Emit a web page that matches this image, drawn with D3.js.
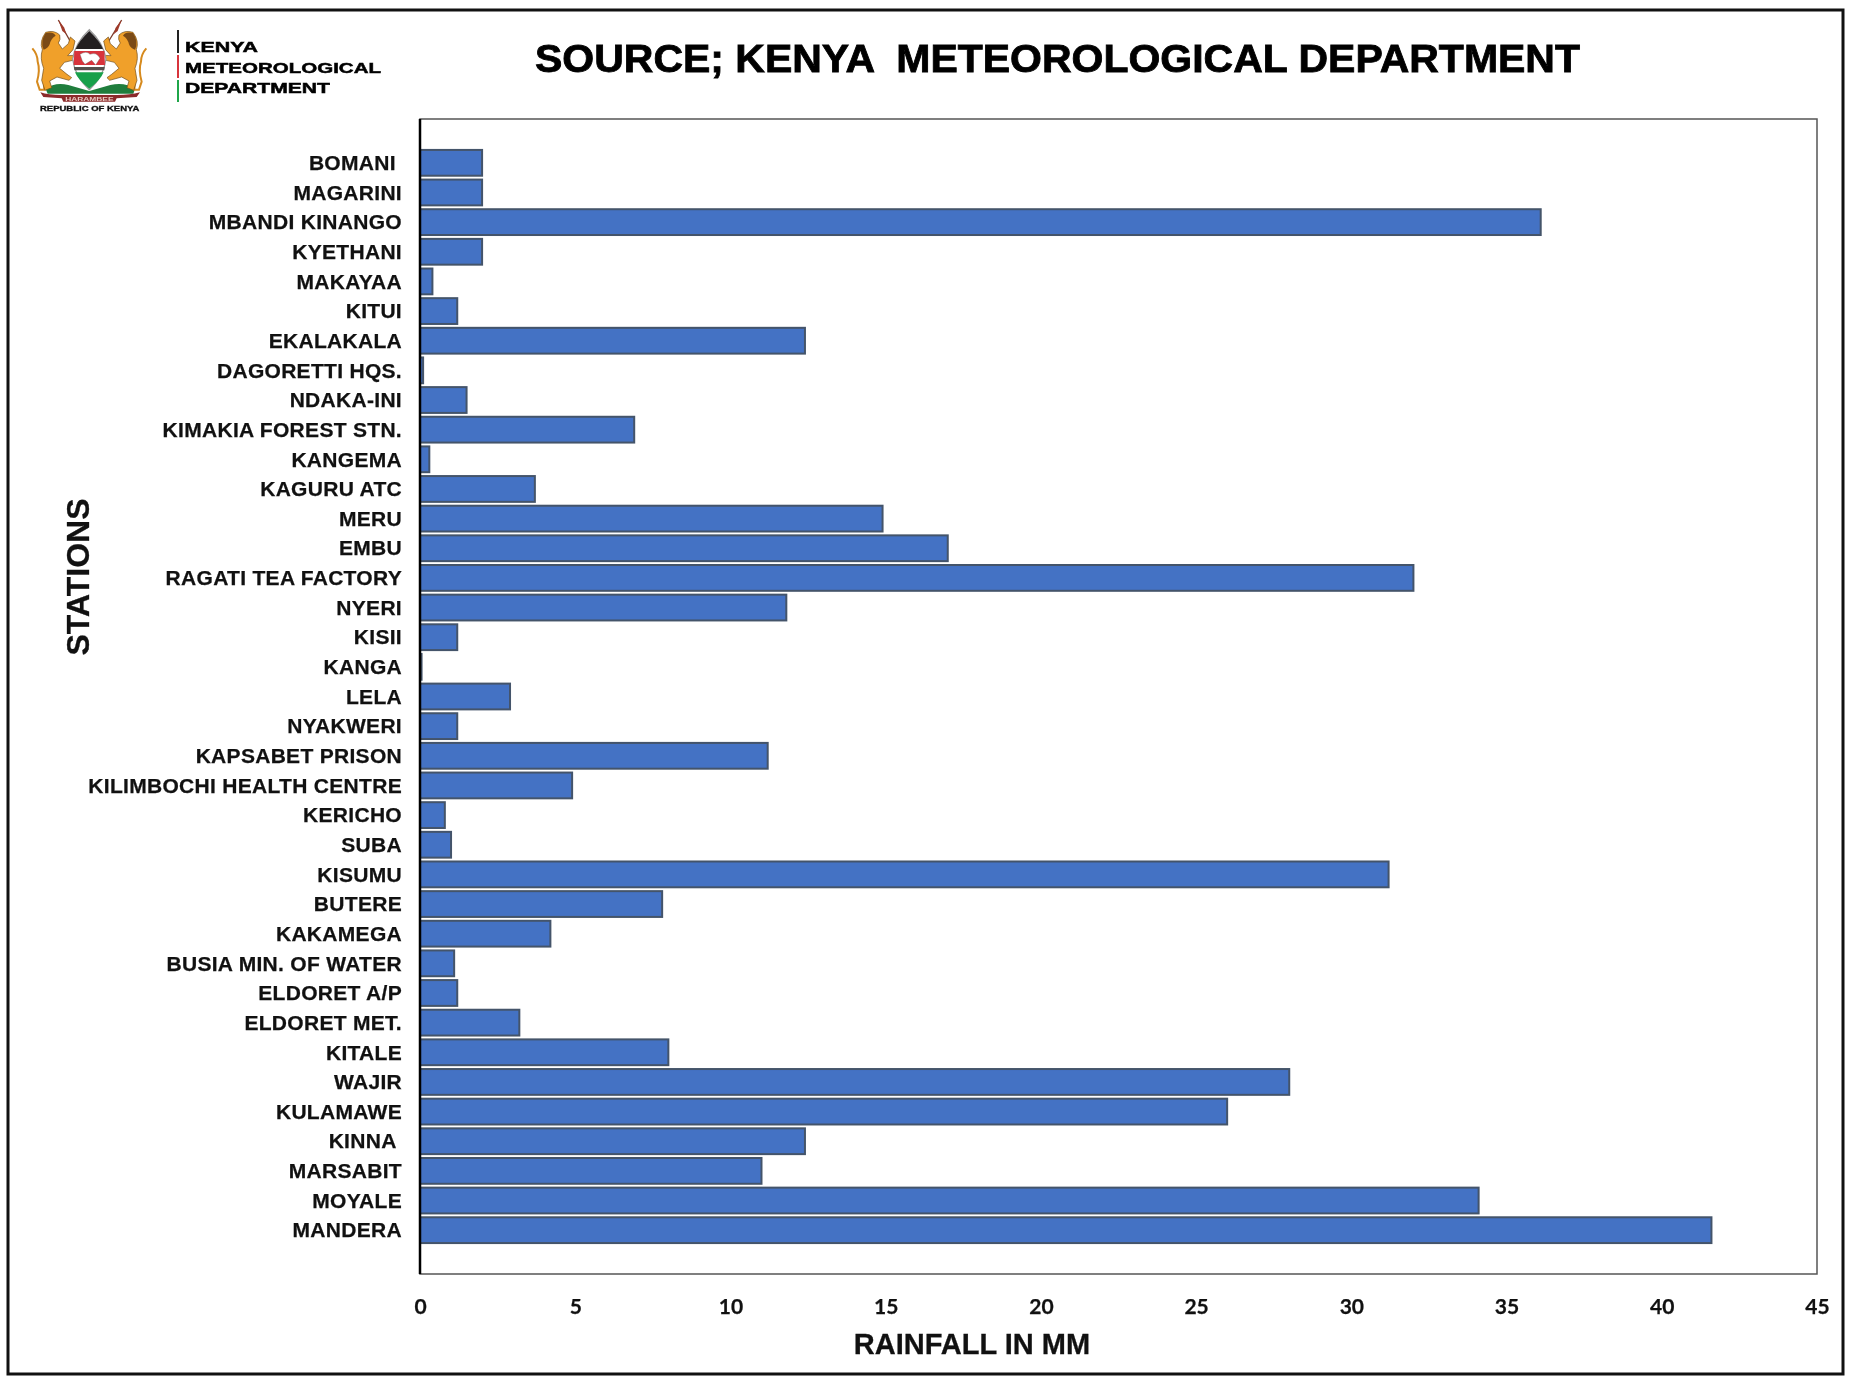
<!DOCTYPE html>
<html>
<head>
<meta charset="utf-8">
<script src="https://cdn.jsdelivr.net/npm/d3@7"></script>
<style>
    body { margin: 0; background: #fff; }
    svg { display: block; filter: blur(0.45px); }
    .station text { font-family: "Liberation Sans", Arial, sans-serif; font-weight: bold; font-size: 21px; letter-spacing: 0.3px; fill: #111; stroke: #111; stroke-width: 0.25px; }
    .rain text { font-family: Lato, sans-serif; font-weight: bold; font-size: 21px; fill: #111; stroke: #111; stroke-width: 0.25px; }
    .axisTitle { font-family: "Liberation Sans", Arial, sans-serif; font-weight: bold; fill: #111; stroke: #111; stroke-width: 0.3px; }
</style>
</head>
<body>
<div id="chart"></div>
<script>
// Stations, top to bottom
var stations = ["BOMANI ", "MAGARINI", "MBANDI KINANGO", "KYETHANI", "MAKAYAA", "KITUI", "EKALAKALA",
    "DAGORETTI HQS.", "NDAKA-INI", "KIMAKIA FOREST STN.", "KANGEMA", "KAGURU ATC", "MERU", "EMBU",
    "RAGATI TEA FACTORY", "NYERI", "KISII", "KANGA", "LELA", "NYAKWERI", "KAPSABET PRISON",
    "KILIMBOCHI HEALTH CENTRE", "KERICHO", "SUBA", "KISUMU", "BUTERE", "KAKAMEGA",
    "BUSIA MIN. OF WATER", "ELDORET A/P", "ELDORET MET.", "KITALE", "WAJIR", "KULAMAWE", "KINNA ",
    "MARSABIT", "MOYALE", "MANDERA"];

// Rainfall in mm, same order as stations
var rainfall = [2, 2, 36.1, 2, 0.4, 1.2, 12.4, 0.1, 1.5, 6.9, 0.3, 3.7, 14.9, 17, 32, 11.8, 1.2, 0.05,
    2.9, 1.2, 11.2, 4.9, 0.8, 1, 31.2, 7.8, 4.2, 1.1, 1.2, 3.2, 8, 28, 26, 12.4, 11, 34.1, 41.6];

var rainTicks = [0, 5, 10, 15, 20, 25, 30, 35, 40, 45];

var w = 1849;
var h = 1377;

// Plot frame
var left = 420, right = 1817, top_ = 119, bottom = 1274;

var svg = d3.select("#chart")
    .append("svg")
    .attr("width", w)
    .attr("height", h);

// Outer border around the whole slide
svg.append("rect")
    .attr("x", 8).attr("y", 10)
    .attr("width", 1835).attr("height", 1364)
    .attr("fill", "none").attr("stroke", "#111").attr("stroke-width", 3);

var xScale = d3.scaleLinear().domain([0, 45]).range([left, right]);

// The bars don't fill the whole frame, there is a gap above and below
var yScale = d3.scaleBand()
    .domain(stations.map(function(d, i) { return i; }))
    .range([148, 1245])
    .paddingInner(0.13)
    .paddingOuter(0.065);

// Frame
svg.append("rect")
    .attr("x", left).attr("y", top_)
    .attr("width", right - left).attr("height", bottom - top_)
    .attr("fill", "none").attr("stroke", "#555").attr("stroke-width", 1.5);

// Bars
svg.append("g")
    .selectAll("rect")
    .data(rainfall)
    .join("rect")
    .attr("x", xScale(0))
    .attr("y", function(d, i) { return yScale(i); })
    .attr("width", function(d) { return xScale(d) - xScale(0); })
    .attr("height", yScale.bandwidth())
    .attr("fill", "#4472c4")
    .attr("stroke", "#44546a")
    .attr("stroke-width", 2);

// Station axis
var yAxis = svg.append("g")
    .attr("class", "station")
    .attr("transform", "translate(" + left + ",0.5)")
    .call(d3.axisLeft(yScale).tickSize(0).tickPadding(18).tickFormat(function(i) { return stations[i]; }));
yAxis.selectAll("text").attr("xml:space", "preserve").style("white-space", "pre");
yAxis.select(".domain").remove();

// Thick line at zero, runs the full height of the frame
svg.append("line")
    .attr("x1", left).attr("x2", left)
    .attr("y1", top_).attr("y2", bottom)
    .attr("stroke", "#000").attr("stroke-width", 2.5);

// Rainfall axis
var xAxis = svg.append("g")
    .attr("class", "rain")
    .attr("transform", "translate(0," + (bottom + 2) + ")")
    .call(d3.axisBottom(xScale).tickValues(rainTicks).tickSize(0).tickPadding(23));
xAxis.select(".domain").remove();

// Axis titles
svg.append("text")
    .attr("class", "axisTitle")
    .attr("x", 972).attr("y", 1354)
    .attr("text-anchor", "middle")
    .attr("font-size", 29)
    .text("RAINFALL IN MM");

svg.append("text")
    .attr("class", "axisTitle")
    .attr("transform", "translate(89,577) rotate(-90)")
    .attr("text-anchor", "middle")
    .attr("font-size", 32)
    .text("STATIONS");

// Title, stretched wide like the original
svg.append("text")
    .attr("x", 535).attr("y", 72)
    .attr("font-family", "'Liberation Sans', Arial, sans-serif")
    .attr("font-weight", "bold")
    .attr("font-size", 38)
    .attr("fill", "#000")
    .attr("stroke", "#000")
    .attr("stroke-width", 0.8)
    .attr("textLength", 1045)
    .attr("lengthAdjust", "spacingAndGlyphs")
    .style("white-space", "pre")
    .text("SOURCE; KENYA  METEOROLOGICAL DEPARTMENT");

// Department name next to the logo, with the flag coloured rule
var ruleColors = ["#222", "#d8343c", "#1fa64a"];
var ruleStarts = [30, 55, 80];
var ruleEnds = [53, 78, 102];
svg.append("g")
    .selectAll("line")
    .data(ruleColors)
    .join("line")
    .attr("x1", 178).attr("x2", 178)
    .attr("y1", function(d, i) { return ruleStarts[i]; })
    .attr("y2", function(d, i) { return ruleEnds[i]; })
    .attr("stroke", function(d) { return d; })
    .attr("stroke-width", 2);

var deptLines = ["KENYA", "METEOROLOGICAL", "DEPARTMENT"];
var deptWidths = [73, 196, 145];
svg.append("g")
    .selectAll("text")
    .data(deptLines)
    .join("text")
    .attr("x", 185)
    .attr("y", function(d, i) { return 52 + i * 20.5; })
    .attr("font-family", "'Liberation Sans', Arial, sans-serif")
    .attr("font-weight", "bold")
    .attr("font-size", 15.5)
    .attr("fill", "#000")
    .attr("stroke", "#000")
    .attr("stroke-width", 0.5)
    .attr("textLength", function(d, i) { return deptWidths[i]; })
    .attr("lengthAdjust", "spacingAndGlyphs")
    .text(function(d) { return d; });

// Coat of arms, rough redraw of the logo. Drawn in 3x units, then scaled down
var logo = svg.append("g").attr("transform", "translate(25,15) scale(0.3333)");
function part(parent, d, fill, stroke, sw) {
    parent.append("path").attr("d", d).attr("fill", fill)
        .attr("stroke", stroke || "none").attr("stroke-width", sw || 0);
}
// ground and ribbon sit behind everything
part(logo, "M62 222 Q90 200 130 210 L193 228 L256 210 Q300 200 330 222 L325 236 L68 236Z", "#1f7d3c");
part(logo, "M46 232 Q70 240 110 240 L276 240 Q315 240 345 232 L335 246 L275 250 L270 260 L115 260 L110 250 L55 246Z", "#8c2a2a");
// spears
part(logo, "M100 15 L142 90", "none", "#7a3a2a", 4);
part(logo, "M290 15 L244 90", "none", "#7a3a2a", 4);
part(logo, "M100 15 L118 38 L124 58 L112 48Z", "#a03a2a");
part(logo, "M290 15 L272 38 L266 58 L278 48Z", "#a03a2a");
// lions, the right one is the left one mirrored
[logo.append("g"), logo.append("g").attr("transform", "translate(386,0) scale(-1,1)")].forEach(function(g) {
    part(g, "M22 100 Q38 118 38 140 Q46 165 36 200 L44 224 L58 224 L56 195 Q66 165 58 135", "none", "#d68a1e", 6);
    part(g, "M62 52 Q88 44 104 60 Q108 74 100 84 L112 102 L130 86 L136 66 L150 78 L144 104 L128 122 L168 120 L168 130 L118 142 L104 160 L126 178 L140 188 L132 196 L96 186 L74 198 L80 218 L60 226 L50 196 L56 160 Q44 130 52 104 Q42 80 62 52Z", "#f0a02a", "#6e4a16", 2);
    part(g, "M62 54 Q84 48 92 62 Q78 70 74 88 Q70 100 56 104 Q44 80 62 54Z", "#7a4a16");
});
// shield
part(logo, "M193 44 Q236 84 243 132 Q236 186 193 224 Q150 186 143 132 Q150 84 193 44Z", "#fff", "#999", 4);
part(logo, "M193 48 Q224 78 234 102 L152 102 Q162 78 193 48Z", "#231f20");
part(logo, "M148 108 L238 108 L240 150 L146 150Z", "#d8343c");
part(logo, "M147 156 L239 156 L238 166 L148 166Z", "#55504c");
part(logo, "M150 172 L236 172 Q226 196 193 221 Q160 196 150 172Z", "#18a04a");
part(logo, "M165 118 Q185 106 195 118 Q215 110 225 130 L212 150 L200 136 L180 148 L172 138Z", "#fff", "#555", 1);
logo.append("text")
    .attr("x", 193).attr("y", 268)
    .attr("text-anchor", "middle")
    .attr("font-family", "'Liberation Sans', Arial, sans-serif")
    .attr("font-weight", "bold")
    .attr("font-size", 18)
    .attr("fill", "#e8c8c0")
    .attr("textLength", 145)
    .attr("lengthAdjust", "spacingAndGlyphs")
    .attr("dy", -10)
    .text("HARAMBEE");
logo.append("text")
    .attr("x", 45).attr("y", 287)
    .attr("font-family", "'Liberation Sans', Arial, sans-serif")
    .attr("font-weight", "bold")
    .attr("font-size", 23)
    .attr("fill", "#111")
    .attr("stroke", "#111")
    .attr("stroke-width", 1)
    .attr("textLength", 298)
    .attr("lengthAdjust", "spacingAndGlyphs")
    .text("REPUBLIC OF KENYA");
</script>
</body>
</html>
